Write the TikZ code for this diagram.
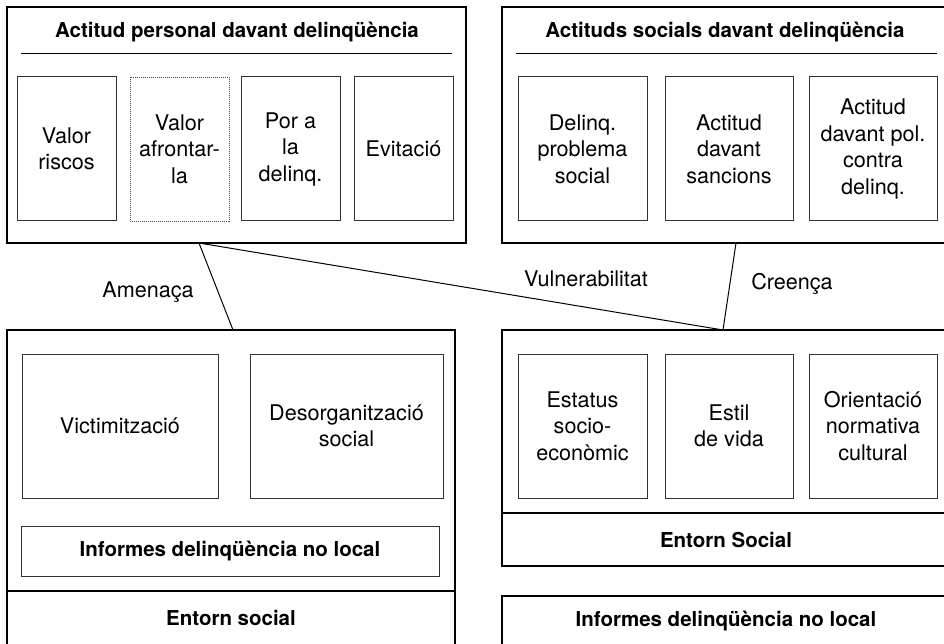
\documentclass[tikz,border=0pt]{standalone}
\usepackage{fontspec}
\setmainfont{TeX Gyre Heros}
\usepackage{tikz}

\begin{document}
\begin{tikzpicture}[x=1pt, y=-1pt,
        frame/.style={draw=black, line width=1.1pt, minimum width=#1},
        cell/.style={draw=black!80, line width=1pt, inner sep=0pt, align=center,
                     font=\fontsize{21.6}{26.5}\selectfont},
        title/.style={font=\bfseries\fontsize{20.5}{25}\selectfont, inner sep=0pt},
        lbl/.style={font=\fontsize{21.6}{26.5}\selectfont, inner sep=0pt}]
    \useasboundingbox (0,0) rectangle (944,644);
    \clip (0,0) rectangle (944,644);
    % outer frames
    \node[frame=459, minimum height=236] (personal) at (236.5,125) {};
    \node[frame=458, minimum height=236] (socials) at (731,125) {};
    \node[frame=448, minimum height=330] (entornL) at (231,495) {};
    \node[frame=458, minimum height=236] (entornR) at (731,448) {};
    \node[frame=458, minimum height=64] (informesR) at (731,628) {};
    % titles and rules
    \node[title] (tPersonal) at (237,32) {Actitud personal davant delinqüència};
    \node[title] (tSocials) at (725,32) {Actituds socials davant delinqüència};
    \draw[line width=1pt] (21,54) -- (452,54);
    \draw[line width=1pt] (516,54) -- (937,54);
    \draw[line width=1.1pt] (7,591) -- (455,591);
    \draw[line width=1.1pt] (502,513) -- (960,513);
    \node[title] (tEntornL) at (231,618) {Entorn social};
    \node[title] (tEntornR) at (726,540) {Entorn Social};
    \node[title] (tInformesR) at (726,621) {Informes delinqüència no local};
    % actitud personal
    \node[cell, minimum width=99, minimum height=144] (riscos) at (66.5,149) {Valor\\riscos};
    \node[cell, draw=black!70, densely dotted, line width=0.8pt, minimum width=99, minimum height=144] (afrontar) at (179.5,149) {Valor\\afrontar-\\la};
    \node[cell, minimum width=99, minimum height=144] (por) at (290.5,149) {Por a\\la\\delinq.};
    \node[cell, minimum width=99, minimum height=144] (evitacio) at (403.5,149) {Evitació};
    % actituds socials
    \node[cell, minimum width=129, minimum height=144] (problema) at (582.5,149) {Delinq.\\problema\\social};
    \node[cell, minimum width=128, minimum height=144] (sancions) at (729,149) {Actitud\\davant\\sancions};
    \node[cell, minimum width=128, minimum height=144] (politica) at (873,149) {Actitud\\davant pol.\\contra\\delinq.};
    % entorn social (esquerra)
    \node[cell, minimum width=196, minimum height=144] (victim) at (120,426) {Victimització};
    \node[cell, minimum width=193, minimum height=144] (desorg) at (346.5,426) {Desorganització\\social};
    \node[cell, minimum width=418, minimum height=50, font=\bfseries\fontsize{20.5}{25}\selectfont] (informesL) at (230,551) {Informes delinqüència no local};
    % entorn social (dreta)
    \node[cell, minimum width=129, minimum height=144] (estatus) at (582.5,426) {Estatus\\socio-\\econòmic};
    \node[cell, minimum width=128, minimum height=144] (estil) at (729,426) {Estil\\de vida};
    \node[cell, minimum width=128, minimum height=144] (orientacio) at (873,426) {Orientació\\normativa\\cultural};
    % connectors
    \coordinate (pBot) at (199,243);
    \coordinate (sBot) at (736,243);
    \coordinate (eLTop) at (233,330);
    \coordinate (eRTop) at (723,330);
    \draw[line width=1pt] (pBot) -- (eLTop);
    \draw[line width=1pt] (pBot) -- (eRTop);
    \draw[line width=1pt] (sBot) -- (eRTop);
    \node[lbl] (amenaca) at (148,292) {Amenaça};
    \node[lbl] (vulner) at (586,279) {Vulnerabilitat};
    \node[lbl] (creenca) at (792,284) {Creença};
\end{tikzpicture}
\end{document}
